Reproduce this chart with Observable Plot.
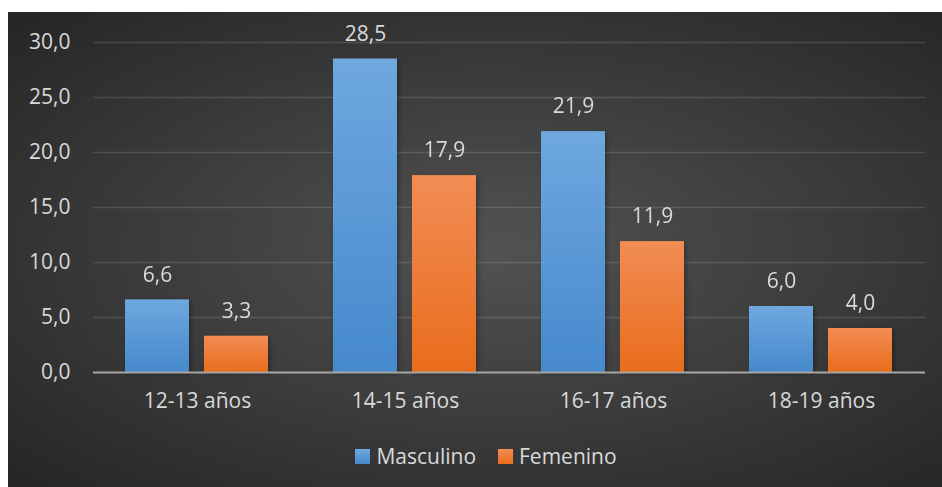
<!DOCTYPE html>
<html>
<head>
<meta charset="utf-8">
<script src="https://cdn.jsdelivr.net/npm/d3@7"></script>
<script src="https://cdn.jsdelivr.net/npm/@observablehq/plot@0.6"></script>
<style>
  html, body { margin: 0; padding: 0; background: #fff; }
  #wrap { position: relative; width: 942px; height: 487px; overflow: hidden; }
  #bg { position: absolute; left: 8px; top: 12px; width: 934px; height: 475px;
        background: radial-gradient(ellipse farthest-corner at 52% 50%, #525252 0%, #3c3c3c 50%, #252525 100%); }
  #chart { position: absolute; left: 0; top: 0; }
  #legend { position: absolute; left: 15px; top: 442px; width: 942px; display: flex; justify-content: center;
            align-items: center; font-family: "Open Sans", sans-serif; font-size: 21px; color: #d9d9d9; }
  .sw { display: inline-flex; align-items: center; margin: 0 11px; }
  .sw i { display: inline-block; width: 15px; height: 15px; margin-right: 6px; }
</style>
</head>
<body>
<div id="wrap">
  <div id="bg"></div>
  <div id="chart"></div>
  <div id="legend"></div>
</div>
<script>
const categories = ["12-13 años", "14-15 años", "16-17 años", "18-19 años"];
const series = ["Masculino", "Femenino"];
const masculino = [6.6, 28.5, 21.9, 6.0];
const femenino = [3.3, 17.9, 11.9, 4.0];
const yTicks = [0, 5, 10, 15, 20, 25, 30];

const data = [];
categories.forEach((c, i) => {
  data.push({cat: c, serie: series[0], value: masculino[i]});
  data.push({cat: c, serie: series[1], value: femenino[i]});
});

const loc = d3.formatLocale({decimal: ",", thousands: ".", grouping: [3], currency: ["", "€"]});
const fmt = loc.format(".1f");

const textColor = "#d9d9d9";

const chart = Plot.plot({
  width: 942,
  height: 432,
  marginLeft: 91,
  marginRight: 16,
  marginTop: 42,
  marginBottom: 60,
  style: {background: "transparent", color: textColor, fontFamily: "'Open Sans', sans-serif", fontSize: "21px"},
  fx: {domain: categories, padding: 0, label: null, tickSize: 0, tickPadding: 21},
  x: {domain: series, paddingInner: 0.1875, paddingOuter: 0.398, axis: null},
  y: {domain: [0, 30], ticks: yTicks, tickFormat: fmt, tickSize: 0, tickPadding: 23, label: null},
  marks: [
    Plot.ruleY(yTicks.filter(d => d > 0), {stroke: "#ffffff", strokeOpacity: 0.13, strokeWidth: 1.5}),
    Plot.barY(data, {fx: "cat", x: "serie", y: "value",
      fill: d => d.serie === series[0] ? "url(#gBlue)" : "url(#gOrange)"}),
    Plot.ruleY([0], {stroke: "#a6a6a6", strokeWidth: 2}),
    Plot.text(data, {fx: "cat", x: "serie", y: "value", text: d => fmt(d.value),
      dy: -25, fill: textColor, fontSize: 21, lineAnchor: "middle"})
  ]
});

const defs = `<defs>
  <linearGradient id="gBlue" x1="0" y1="0" x2="0" y2="1">
    <stop offset="0%" stop-color="#6ea8de"/>
    <stop offset="100%" stop-color="#4689cd"/>
  </linearGradient>
  <linearGradient id="gOrange" x1="0" y1="0" x2="0" y2="1">
    <stop offset="0%" stop-color="#f28d55"/>
    <stop offset="100%" stop-color="#e96c1c"/>
  </linearGradient>
  <filter id="shadow" x="-20%" y="-20%" width="150%" height="150%">
    <feDropShadow dx="2" dy="2" stdDeviation="2" flood-color="#000" flood-opacity="0.3"/>
  </filter>
</defs>`;
chart.insertAdjacentHTML("afterbegin", defs);
chart.querySelectorAll("g[aria-label='bar']").forEach(g => g.setAttribute("filter", "url(#shadow)"));
document.getElementById("chart").appendChild(chart);

const legend = document.getElementById("legend");
series.forEach((s, i) => {
  const el = document.createElement("span");
  el.className = "sw";
  el.innerHTML = `<i style="background: linear-gradient(${i === 0 ? "#6ea8de, #4689cd" : "#f28d55, #e96c1c"})"></i>${s}`;
  legend.appendChild(el);
});
</script>
</body>
</html>
